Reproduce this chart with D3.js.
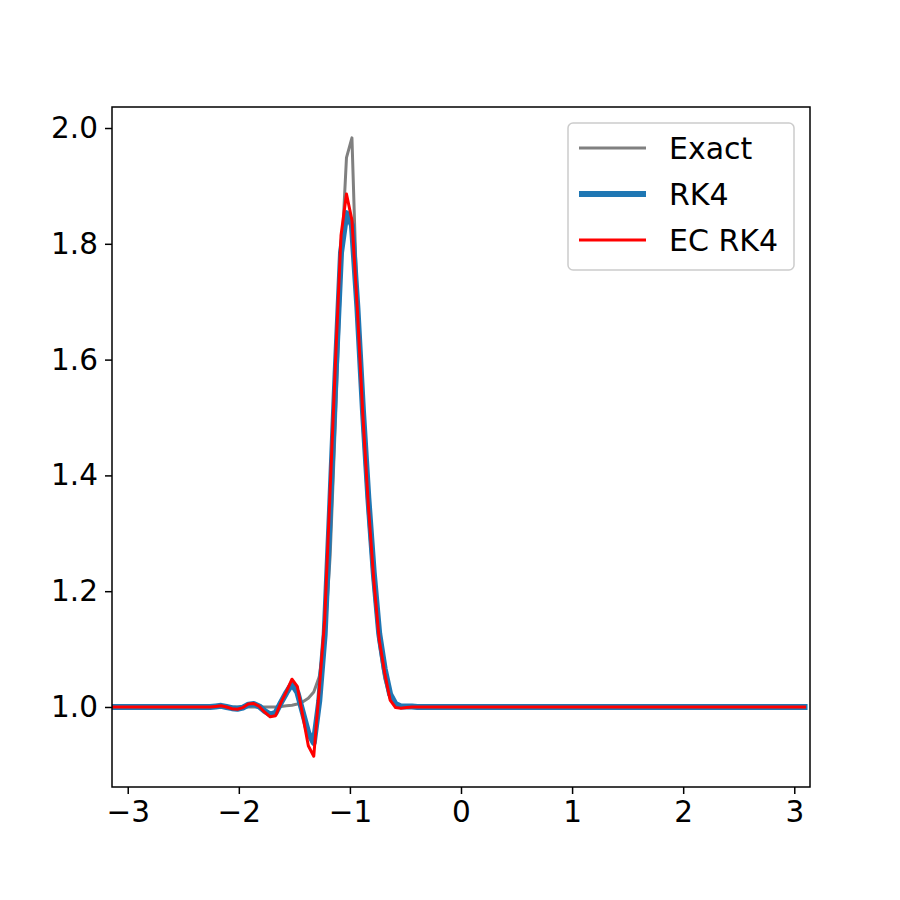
<!DOCTYPE html>
<html>
<head>
<meta charset="utf-8">
<script src="https://cdn.jsdelivr.net/npm/d3@7/dist/d3.min.js"></script>
<style>
  body { margin: 0; background: #fff; }
  text { font-family: "DejaVu Sans", sans-serif; }
</style>
</head>
<body>
<svg id="chart" width="900" height="900"></svg>
<script>
// grid points (x) where the curves are sampled; flat regions only keep the ends
const xs = [
  -3.14159, -2.45437, -2.40528, -2.35619, -2.30711, -2.25802, -2.20893, -2.15984,
  -2.11076, -2.06167, -2.01258, -1.96350, -1.91441, -1.86532, -1.81623, -1.76715,
  -1.71806, -1.66897, -1.61988, -1.57080, -1.52171, -1.47262, -1.42353, -1.37445,
  -1.32536, -1.27627, -1.22718, -1.17810, -1.12901, -1.07992, -1.03084, -0.98175,
  -0.93266, -0.88357, -0.83449, -0.78540, -0.73631, -0.68722, -0.63814, -0.58905,
  -0.53996, -0.49087, -0.44179, -0.39270, 3.09251
];

const exactVals = [
  1.000, 1.000, 1.000, 1.000, 1.000, 1.000, 1.000, 1.000,
  1.000, 1.000, 1.000, 1.000, 1.000, 1.000, 1.000, 1.000,
  1.000, 1.000, 1.001, 1.002, 1.003, 1.005, 1.009, 1.015,
  1.026, 1.052, 1.115, 1.260, 1.500, 1.762, 1.949, 1.983,
  1.680, 1.490, 1.335, 1.210, 1.112, 1.050, 1.015, 1.004,
  1.001, 1.000, 1.000, 1.000, 1.000
];

const rk4Vals = [
  1.000, 1.000, 1.000, 1.000, 1.000, 1.000, 1.001, 1.002,
  1.000, 0.998, 0.997, 0.999, 1.004, 1.005, 1.001, 0.993,
  0.987, 0.990, 1.008, 1.025, 1.040, 1.025, 0.990, 0.955,
  0.938, 1.010, 1.125, 1.345, 1.575, 1.785, 1.853, 1.832,
  1.690, 1.515, 1.362, 1.232, 1.127, 1.066, 1.022, 1.005,
  1.001, 1.001, 1.001, 1.000, 1.000
];

const ecRk4Vals = [
  1.000, 1.000, 1.000, 1.000, 1.000, 1.000, 1.001, 1.002,
  1.000, 0.997, 0.996, 0.999, 1.005, 1.006, 1.001, 0.991,
  0.983, 0.985, 1.008, 1.027, 1.048, 1.035, 0.984, 0.933,
  0.915, 1.031, 1.150, 1.375, 1.600, 1.815, 1.886, 1.841,
  1.686, 1.504, 1.349, 1.219, 1.116, 1.059, 1.012, 0.999,
  0.998, 0.999, 1.000, 1.000, 1.000
];

const xTicks = [-3, -2, -1, 0, 1, 2, 3];
const yTicks = [1.0, 1.2, 1.4, 1.6, 1.8, 2.0];

const series = [
  { name: "Exact", vals: exactVals, color: "#808080", width: 3 },
  { name: "RK4", vals: rk4Vals, color: "#1f77b4", width: 6 },
  { name: "EC RK4", vals: ecRk4Vals, color: "#ff0000", width: 3 }
];

const margin = { top: 107, right: 90, bottom: 113, left: 112 };
const width = 900 - margin.left - margin.right;
const height = 900 - margin.top - margin.bottom;

const svg = d3.select("#chart");
const g = svg.append("g")
  .attr("transform", "translate(" + margin.left + "," + margin.top + ")");

const x = d3.scaleLinear().domain([-Math.PI, Math.PI]).range([0, width]);
const y = d3.scaleLinear().domain([0.8618, 2.0363]).range([height, 0]);

g.append("clipPath").attr("id", "clip")
  .append("rect").attr("width", width).attr("height", height);

const line = d3.line()
  .x((d, i) => x(xs[i]))
  .y(d => y(d));

const plot = g.append("g").attr("clip-path", "url(#clip)");
series.forEach(s => {
  plot.append("path")
    .datum(s.vals)
    .attr("d", line)
    .attr("fill", "none")
    .attr("stroke", s.color)
    .attr("stroke-width", s.width)
    .attr("stroke-linejoin", "round")
    .attr("stroke-linecap", "square");
});

// axes
const fmtX = d => d < 0 ? "\u2212" + Math.abs(d) : String(d);
const xAxis = g.append("g")
  .attr("transform", "translate(0," + height + ")")
  .call(d3.axisBottom(x).tickValues(xTicks).tickFormat(fmtX).tickSize(7).tickPadding(7));
const yAxis = g.append("g")
  .call(d3.axisLeft(y).tickValues(yTicks).tickFormat(d3.format(".1f")).tickSize(7).tickPadding(7));

[xAxis, yAxis].forEach(a => {
  a.select(".domain").remove();
  a.selectAll("line").attr("stroke", "#000").attr("stroke-width", 1.5);
  a.selectAll("text").attr("fill", "#000").style("font-size", "29.5px")
    .style("font-family", "'DejaVu Sans', sans-serif");
});

g.append("rect")
  .attr("width", width).attr("height", height)
  .attr("fill", "none").attr("stroke", "#000").attr("stroke-width", 1.5);

// legend
const legend = g.append("g").attr("transform", "translate(" + (568 - margin.left) + "," + (123 - margin.top) + ")");
legend.append("rect")
  .attr("width", 226).attr("height", 147).attr("rx", 5)
  .attr("fill", "#fff").attr("fill-opacity", 0.8)
  .attr("stroke", "#cccccc").attr("stroke-width", 1.5);
series.forEach((s, i) => {
  const ly = 25 + i * 46;
  legend.append("line")
    .attr("x1", 11).attr("x2", 78).attr("y1", ly).attr("y2", ly)
    .attr("stroke", s.color).attr("stroke-width", s.width);
  legend.append("text")
    .attr("x", 101).attr("y", ly).attr("dy", "0.36em")
    .style("font-size", "30px")
    .text(s.name);
});
</script>
</body>
</html>
